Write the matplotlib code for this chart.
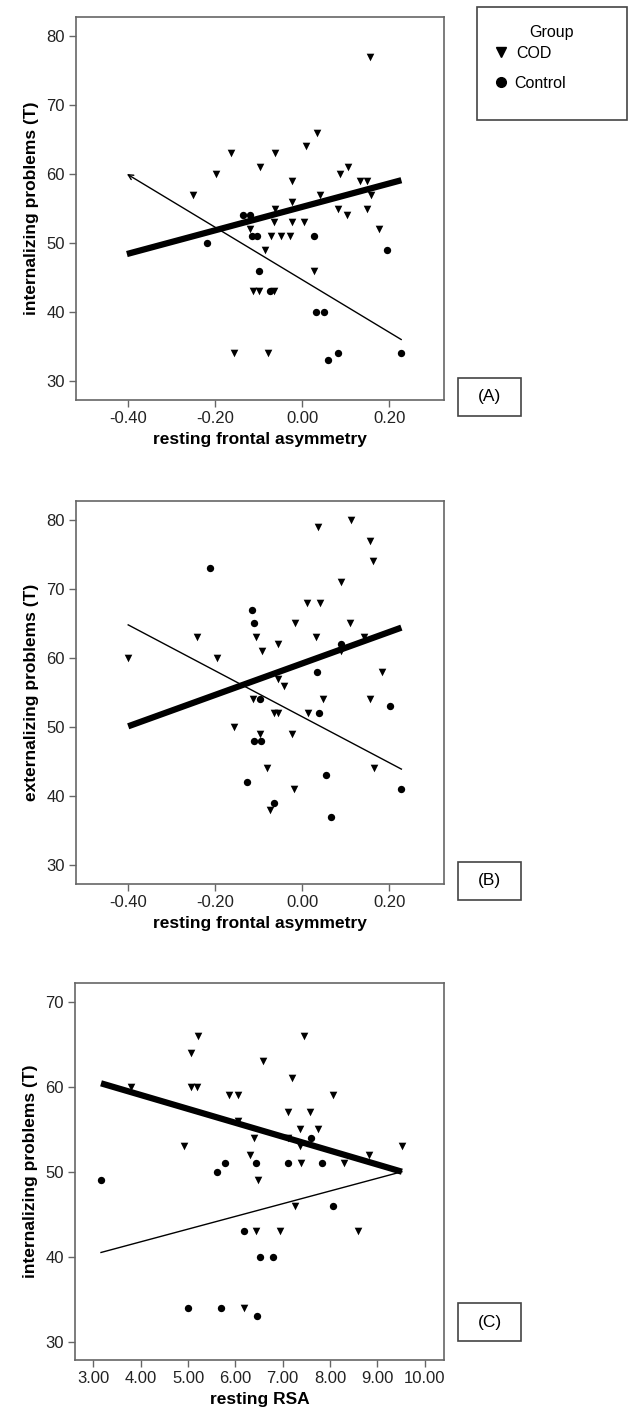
import matplotlib

matplotlib.use("Agg")
import matplotlib.pyplot as plt
from matplotlib.lines import Line2D
from matplotlib.patches import Rectangle

plt.rcParams["font.family"] = ["Liberation Sans", "DejaVu Sans"]

W, H = 629, 1422

# panel A: internalizing vs resting frontal asymmetry
cod_x_a = [-0.25, -0.198, -0.163, -0.156, -0.120, -0.112, -0.100, -0.098, -0.086,
           -0.079, -0.071, -0.064, -0.064, -0.062, -0.062, -0.048, -0.029, -0.024,
           -0.023, -0.023, 0.005, 0.008, 0.026, 0.033, 0.040, 0.083, 0.087, 0.103,
           0.105, 0.134, 0.148, 0.148, 0.156, 0.159, 0.176]
cod_y_a = [57, 60, 63, 34, 52, 43, 43, 61, 49,
           34, 51, 53, 43, 63, 55, 51, 51, 53,
           59, 56, 53, 64, 46, 66, 57, 55, 60, 54,
           61, 59, 59, 55, 77, 57, 52]
ctl_x_a = [-0.218, -0.135, -0.120, -0.116, -0.103, -0.099, -0.073, 0.028, 0.031,
           0.049, 0.060, 0.083, 0.195, 0.228]
ctl_y_a = [50, 54, 54, 51, 51, 46, 43, 51, 40, 40, 33, 34, 49, 34]
thick_x_a = [-0.403, 0.228]
thick_y_a = [48.4, 59.1]
thin_x_a = [-0.403, 0.228]
thin_y_a = [60, 36]

# panel B: externalizing vs resting frontal asymmetry
cod_x_b = [-0.40, -0.242, -0.195, -0.157, -0.114, -0.106, -0.097, -0.093, -0.080,
           -0.074, -0.064, -0.056, -0.056, -0.056, -0.041, -0.024, -0.018, -0.016,
           0.011, 0.013, 0.031, 0.037, 0.040, 0.047, 0.090, 0.090, 0.110, 0.113,
           0.141, 0.156, 0.156, 0.162, 0.166, 0.183]
cod_y_b = [60, 63, 60, 50, 54, 63, 49, 61, 44,
           38, 52, 52, 62, 57, 56, 49, 41, 65,
           68, 52, 63, 79, 68, 54, 71, 61, 65, 80,
           63, 77, 54, 74, 44, 58]
ctl_x_b = [-0.213, -0.128, -0.115, -0.110, -0.110, -0.097, -0.094, -0.065, 0.034,
           0.038, 0.055, 0.067, 0.090, 0.202, 0.228]
ctl_y_b = [73, 42, 67, 65, 48, 54, 48, 39, 58, 52, 43, 37, 62, 53, 41]
thick_x_b = [-0.40, 0.228]
thick_y_b = [50.1, 64.4]
thin_x_b = [-0.40, 0.228]
thin_y_b = [64.8, 43.9]

# panel C: internalizing vs resting RSA
cod_x_c = [3.79, 4.92, 5.06, 5.06, 5.18, 5.22, 5.87, 6.06, 6.06, 6.19, 6.31, 6.40,
           6.44, 6.47, 6.58, 6.95, 7.12, 7.12, 7.20, 7.25, 7.37, 7.37, 7.39, 7.46,
           7.58, 7.74, 8.06, 8.30, 8.60, 8.83, 9.52]
cod_y_c = [60, 53, 64, 60, 60, 66, 59, 59, 56, 34, 52, 54,
           43, 49, 63, 43, 57, 54, 61, 46, 55, 53, 51, 66,
           57, 55, 59, 51, 43, 52, 53]
ctl_x_c = [3.16, 5.00, 5.62, 5.70, 5.78, 6.19, 6.44, 6.45, 6.52, 6.80, 7.12, 7.59,
           7.83, 8.06]
ctl_y_c = [49, 34, 50, 34, 51, 43, 51, 33, 40, 40, 51, 54, 51, 46]
thick_x_c = [3.16, 9.52]
thick_y_c = [60.4, 50.0]
thin_x_c = [3.16, 9.52]
thin_y_c = [40.5, 50.0]

frontal_ticks = [-0.40, -0.20, 0.00, 0.20]
rsa_ticks = [3, 4, 5, 6, 7, 8, 9, 10]

GREY = "#666666"


def frac(left, top, right, bottom):
    return [left / W, 1 - bottom / H, (right - left) / W, (bottom - top) / H]


def style(ax, xticks, yticks, xlim, ylim, xlabel, ylabel):
    ax.set_xlim(*xlim)
    ax.set_ylim(*ylim)
    ax.set_xticks(xticks)
    ax.set_xticklabels([f"{t:.2f}" for t in xticks])
    ax.set_yticks(yticks)
    for sp in ax.spines.values():
        sp.set_color(GREY)
        sp.set_linewidth(1.2)
    ax.tick_params(colors=GREY, labelcolor="#222222", length=5, width=1,
                   labelsize=12, pad=3)
    ax.set_xlabel(xlabel, fontsize=12.5, fontweight="bold", labelpad=4)
    ax.set_ylabel(ylabel, fontsize=12.5, fontweight="bold", labelpad=5)


def points(ax, cx, cy, kx, ky):
    ax.scatter(cx, cy, marker="v", s=30, color="black", linewidths=0, zorder=3)
    ax.scatter(kx, ky, marker="o", s=28, color="black", linewidths=0, zorder=3)


def tag(fig, label, left, top, right, bottom):
    fig.add_artist(Rectangle((left / W, 1 - bottom / H), (right - left) / W,
                             (bottom - top) / H, transform=fig.transFigure,
                             fill=False, edgecolor="#444444", lw=1.2))
    fig.text((left + right) / 2 / W, 1 - (top + bottom) / 2 / H, label,
             ha="center", va="center", fontsize=12.5)


fig = plt.figure(figsize=(W / 100, H / 100), dpi=100)

ax_a = fig.add_axes(frac(76, 17, 444, 400))
points(ax_a, cod_x_a, cod_y_a, ctl_x_a, ctl_y_a)
ax_a.plot(thick_x_a, thick_y_a, color="black", lw=4.5, solid_capstyle="butt", zorder=2)
ax_a.annotate("", xy=(thin_x_a[0], thin_y_a[0]), xytext=(thin_x_a[1], thin_y_a[1]),
              arrowprops=dict(arrowstyle="->", lw=1.0, color="black",
                              mutation_scale=9, shrinkA=0, shrinkB=0), zorder=2)
style(ax_a, frontal_ticks, range(30, 81, 10), (-0.52, 0.326), (27.25, 82.75),
      "resting frontal asymmetry", "internalizing problems (T)")

ax_b = fig.add_axes(frac(76, 501, 444, 884))
points(ax_b, cod_x_b, cod_y_b, ctl_x_b, ctl_y_b)
ax_b.plot(thick_x_b, thick_y_b, color="black", lw=4.5, solid_capstyle="butt", zorder=2)
ax_b.plot(thin_x_b, thin_y_b, color="black", lw=1.0, zorder=2)
style(ax_b, frontal_ticks, range(30, 81, 10), (-0.52, 0.326), (27.25, 82.75),
      "resting frontal asymmetry", "externalizing problems (T)")

ax_c = fig.add_axes(frac(75, 983, 444, 1360))
points(ax_c, cod_x_c, cod_y_c, ctl_x_c, ctl_y_c)
ax_c.plot(thick_x_c, thick_y_c, color="black", lw=4.5, solid_capstyle="butt", zorder=2)
ax_c.plot(thin_x_c, thin_y_c, color="black", lw=1.0, zorder=2)
style(ax_c, rsa_ticks, range(30, 71, 10), (2.61, 10.41), (27.85, 72.2),
      "resting RSA", "internalizing problems (T)")

tag(fig, "(A)", 458, 378, 521, 416)
tag(fig, "(B)", 458, 862, 521, 900)
tag(fig, "(C)", 458, 1303, 521, 1341)

# group legend
fig.add_artist(Rectangle((477 / W, 1 - 120 / H), 150 / W, 113 / H,
                         transform=fig.transFigure, fill=False,
                         edgecolor="#444444", lw=1.2))
fig.text(552 / W, 1 - 32 / H, "Group", ha="center", va="center", fontsize=11.5)
fig.add_artist(Line2D([501 / W], [1 - 52 / H], marker="v", markersize=7,
                      color="black", ls="none", transform=fig.transFigure))
fig.add_artist(Line2D([501 / W], [1 - 82 / H], marker="o", markersize=7,
                      color="black", ls="none", transform=fig.transFigure))
fig.text(516 / W, 1 - 53 / H, "COD", ha="left", va="center", fontsize=11.5)
fig.text(514 / W, 1 - 84 / H, "Control", ha="left", va="center", fontsize=11.5)

fig.savefig("out.png", dpi=100)
